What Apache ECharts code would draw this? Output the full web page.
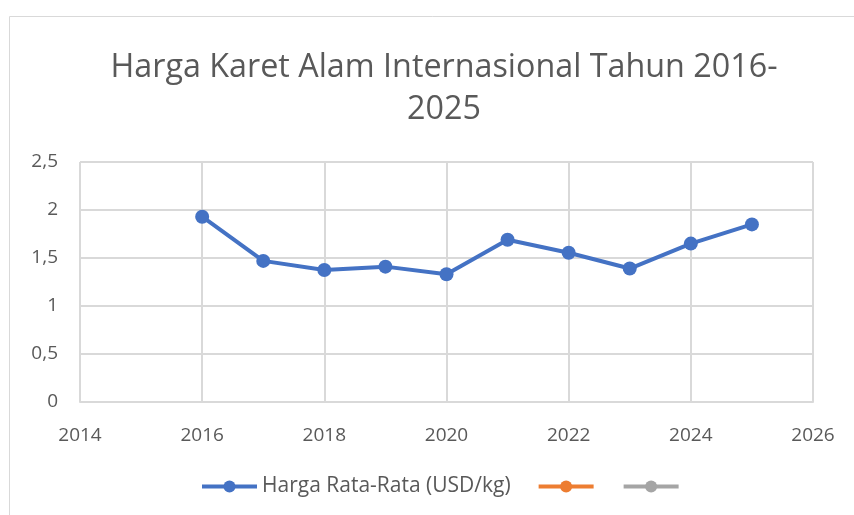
<!DOCTYPE html>
<html><head><meta charset="utf-8">
<script src="https://cdn.jsdelivr.net/npm/echarts@6/dist/echarts.min.js"></script>
<style>html,body{margin:0;padding:0;background:#fff}#c{width:854px;height:515px}</style>
</head><body><div id="c"></div>
<script>
var years = [2016, 2017, 2018, 2019, 2020, 2021, 2022, 2023, 2024, 2025];
var prices = [1.93, 1.47, 1.375, 1.41, 1.33, 1.69, 1.555, 1.39, 1.65, 1.85];
var seriesNames = ['Harga Rata-Rata (USD/kg)', 'Series2', 'Series3'];
var seriesColors = ['#4472C4', '#ED7D31', '#A5A5A5'];
var titleText = 'Harga Karet Alam Internasional Tahun 2016-\n2025';

var FONT = 'Open Sans';
var chart = echarts.init(document.getElementById('c'));
var points = years.map(function (y, i) { return [y, prices[i]]; });
chart.setOption({
  animation: false,
  graphic: [{ type: 'rect', shape: { x: 9.5, y: 16.5, width: 900, height: 600 }, style: { fill: 'none', stroke: '#d9d9d9', lineWidth: 1 }, z: -1 }],
  title: {
    text: titleText, left: 439, top: 42, textAlign: 'center',
    textStyle: { fontFamily: FONT, fontSize: 32.3, fontWeight: 'normal', color: '#595959', lineHeight: 42 }
  },
  grid: { left: 80, right: 41, top: 162, bottom: 113, containLabel: false },
  legend: {
    bottom: 13, left: 195, itemWidth: 55, itemHeight: 15, itemGap: 26,
    data: seriesNames,
    lineStyle: { width: 4 },
    formatter: function (n) { return n === seriesNames[0] ? n : ''; },
    textStyle: { fontFamily: FONT, fontSize: 21, color: '#595959' }
  },
  xAxis: {
    type: 'value', min: 2014, max: 2026, interval: 2,
    axisLine: { show: true, lineStyle: { color: '#d9d9d9', width: 2 } },
    axisTick: { show: false },
    splitLine: { show: true, lineStyle: { color: '#d9d9d9', width: 2 } },
    axisLabel: { fontFamily: FONT, fontSize: 19, color: '#595959', margin: 24,
      formatter: function (v) { return String(v); } }
  },
  yAxis: {
    type: 'value', min: 0, max: 2.5, interval: 0.5,
    axisLine: { show: false }, axisTick: { show: false },
    splitLine: { show: true, lineStyle: { color: '#d9d9d9', width: 2 } },
    axisLabel: { fontFamily: FONT, fontSize: 19, color: '#595959', margin: 22,
      formatter: function (v) { return String(v).replace('.', ','); } }
  },
  series: [
    { name: seriesNames[0], type: 'line', data: points, symbol: 'circle', symbolSize: 14,
      lineStyle: { width: 4, color: seriesColors[0] }, itemStyle: { color: seriesColors[0] } },
    { name: seriesNames[1], type: 'line', data: [], symbol: 'circle', symbolSize: 14,
      lineStyle: { width: 4, color: seriesColors[1] }, itemStyle: { color: seriesColors[1] } },
    { name: seriesNames[2], type: 'line', data: [], symbol: 'circle', symbolSize: 14,
      lineStyle: { width: 4, color: seriesColors[2] }, itemStyle: { color: seriesColors[2] } }
  ]
});
</script></body></html>
